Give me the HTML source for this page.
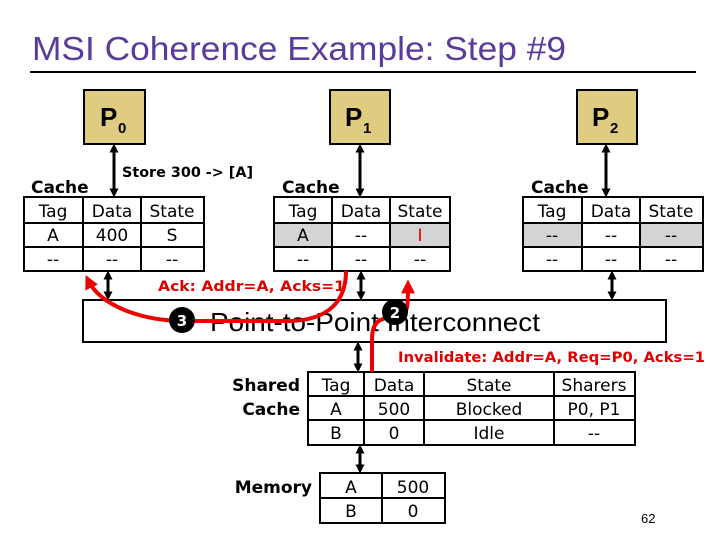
<!DOCTYPE html>
<html><head><meta charset="utf-8"><style>
html,body{margin:0;padding:0;background:#fff;}
body{width:720px;height:540px;overflow:hidden;position:relative;font-family:"DejaVu Sans","Liberation Sans",sans-serif;}
</style></head><body>
<svg width="720" height="540" xmlns="http://www.w3.org/2000/svg" style="position:absolute;left:0;top:0">
<defs>
<marker id="ah" viewBox="0 0 10 10" refX="5" refY="5" markerWidth="3" markerHeight="3" orient="auto-start-reverse"><path d="M0,0L10,5L0,10z" fill="#000"/></marker>
<marker id="rh" viewBox="0 0 10 10" refX="6" refY="5" markerWidth="3.5" markerHeight="3.5" orient="auto"><path d="M0,0L10,5L0,10z" fill="#e00"/></marker>
</defs>
<text x="32" y="60" font-family="Liberation Sans, sans-serif" font-size="33" fill="#5a3b9c" textLength="534" lengthAdjust="spacingAndGlyphs">MSI Coherence Example: Step #9</text>
<line x1="30" y1="72" x2="696" y2="72" stroke="#000" stroke-width="2"/>
<g font-family="Liberation Sans, sans-serif" font-weight="bold">
<rect x="84" y="90" width="61" height="54" fill="#e0cc80" stroke="#000" stroke-width="2"/>
<text x="100" y="126" font-size="26">P</text><text x="118" y="133" font-size="15">0</text>
<rect x="330" y="90" width="60" height="54" fill="#e0cc80" stroke="#000" stroke-width="2"/>
<text x="345" y="126" font-size="26">P</text><text x="363" y="133" font-size="15">1</text>
<rect x="577" y="90" width="60" height="54" fill="#e0cc80" stroke="#000" stroke-width="2"/>
<text x="592" y="126" font-size="26">P</text><text x="610" y="133" font-size="15">2</text>
</g>
<g stroke="#000" stroke-width="3" marker-start="url(#ah)" marker-end="url(#ah)">
<line x1="114" y1="148" x2="114" y2="193"/>
<line x1="360" y1="148" x2="360" y2="193"/>
<line x1="606" y1="148" x2="606" y2="193"/>
<line x1="108" y1="275" x2="108" y2="296"/>
<line x1="361" y1="275" x2="361" y2="296"/>
<line x1="612" y1="275" x2="612" y2="296"/>
<line x1="358" y1="346" x2="358" y2="368"/>
<line x1="360" y1="449" x2="360" y2="469"/>
</g>
<text x="122" y="177" font-size="14" font-weight="bold" font-family="DejaVu Sans, sans-serif" textLength="131" lengthAdjust="spacingAndGlyphs">Store 300 -&gt; [A]</text>
<g font-size="17" font-family="DejaVu Sans, sans-serif">
<text x="31" y="193" font-weight="bold">Cache</text>
<text x="282" y="193" font-weight="bold">Cache</text>
<text x="531" y="193" font-weight="bold">Cache</text>
</g>
<g fill="#d4d4d4">
<rect x="274" y="223" width="58" height="24"/><rect x="390" y="223" width="60" height="24"/>
<rect x="523" y="223" width="59" height="24"/><rect x="640" y="223" width="63" height="24"/>
</g>
<g stroke="#000" stroke-width="2" fill="none">
<rect x="24" y="197" width="180" height="74"/>
<path d="M24 223H204M24 247H204M83 197V271M141 197V271"/>
<rect x="274" y="197" width="176" height="74"/>
<path d="M274 223H450M274 247H450M332 197V271M390 197V271"/>
<rect x="523" y="197" width="180" height="74"/>
<path d="M523 223H703M523 247H703M582 197V271M640 197V271"/>
<rect x="83" y="300" width="583" height="42"/>
<rect x="308" y="372" width="327" height="73"/>
<path d="M308 396H635M308 420H635M364 372V445M424 372V445M554 372V445"/>
<rect x="320" y="473" width="125" height="50"/>
<path d="M320 498H445M382 473V523"/>
</g>
<g font-size="17" text-anchor="middle" font-family="DejaVu Sans, sans-serif">
<text x="53" y="217">Tag</text><text x="112" y="217">Data</text><text x="172" y="217">State</text>
<text x="53" y="241">A</text><text x="112" y="241">400</text><text x="172" y="241">S</text>
<text x="53" y="265">--</text><text x="112" y="265">--</text><text x="172" y="265">--</text>
<text x="303" y="217">Tag</text><text x="361" y="217">Data</text><text x="420" y="217">State</text>
<text x="303" y="241">A</text><text x="361" y="241">--</text><text x="420" y="241" fill="#d00">I</text>
<text x="303" y="265">--</text><text x="361" y="265">--</text><text x="420" y="265">--</text>
<text x="552" y="217">Tag</text><text x="611" y="217">Data</text><text x="671" y="217">State</text>
<text x="552" y="241">--</text><text x="611" y="241">--</text><text x="671" y="241">--</text>
<text x="552" y="265">--</text><text x="611" y="265">--</text><text x="671" y="265">--</text>
<text x="336" y="391">Tag</text><text x="394" y="391">Data</text><text x="489" y="391">State</text><text x="594" y="391">Sharers</text>
<text x="336" y="415">A</text><text x="394" y="415">500</text><text x="489" y="415">Blocked</text><text x="594" y="415">P0, P1</text>
<text x="336" y="439">B</text><text x="394" y="439">0</text><text x="489" y="439">Idle</text><text x="594" y="439">--</text>
<text x="351" y="493">A</text><text x="413" y="493">500</text>
<text x="351" y="517">B</text><text x="413" y="517">0</text>
</g>
<g font-size="17" font-weight="bold" text-anchor="end" font-family="DejaVu Sans, sans-serif">
<text x="300" y="391">Shared</text><text x="300" y="415">Cache</text><text x="312" y="493">Memory</text>
</g>
<text x="210" y="331" font-size="26" font-family="Liberation Sans, sans-serif" textLength="330" lengthAdjust="spacingAndGlyphs">Point-to-Point Interconnect</text>
<g stroke="#e00" stroke-width="4" fill="none">
<path d="M346 271 C346 300 330 320 290 321 L185 321 C140 321 100 305 88 280" marker-end="url(#rh)"/>
<path d="M372 372 L372 340 C372 320 380 318 400 316 C408 314 408 305 408 285" marker-end="url(#rh)"/>
</g>
<g font-size="14" font-weight="bold" fill="#d00" font-family="DejaVu Sans, sans-serif">
<text x="158" y="291" textLength="187" lengthAdjust="spacingAndGlyphs">Ack: Addr=A, Acks=1</text>
<text x="398" y="362" textLength="307" lengthAdjust="spacingAndGlyphs">Invalidate: Addr=A, Req=P0, Acks=1</text>
</g>
<circle cx="182" cy="320" r="13" fill="#000"/>
<text x="182" y="326" font-size="15" font-weight="bold" fill="#fff" text-anchor="middle">3</text>
<circle cx="395" cy="312" r="13" fill="#000"/>
<text x="395" y="318" font-size="15" font-weight="bold" fill="#fff" text-anchor="middle">2</text>
<text x="641" y="523" font-size="13" font-family="Liberation Sans, sans-serif">62</text>
</svg>
</body></html>
